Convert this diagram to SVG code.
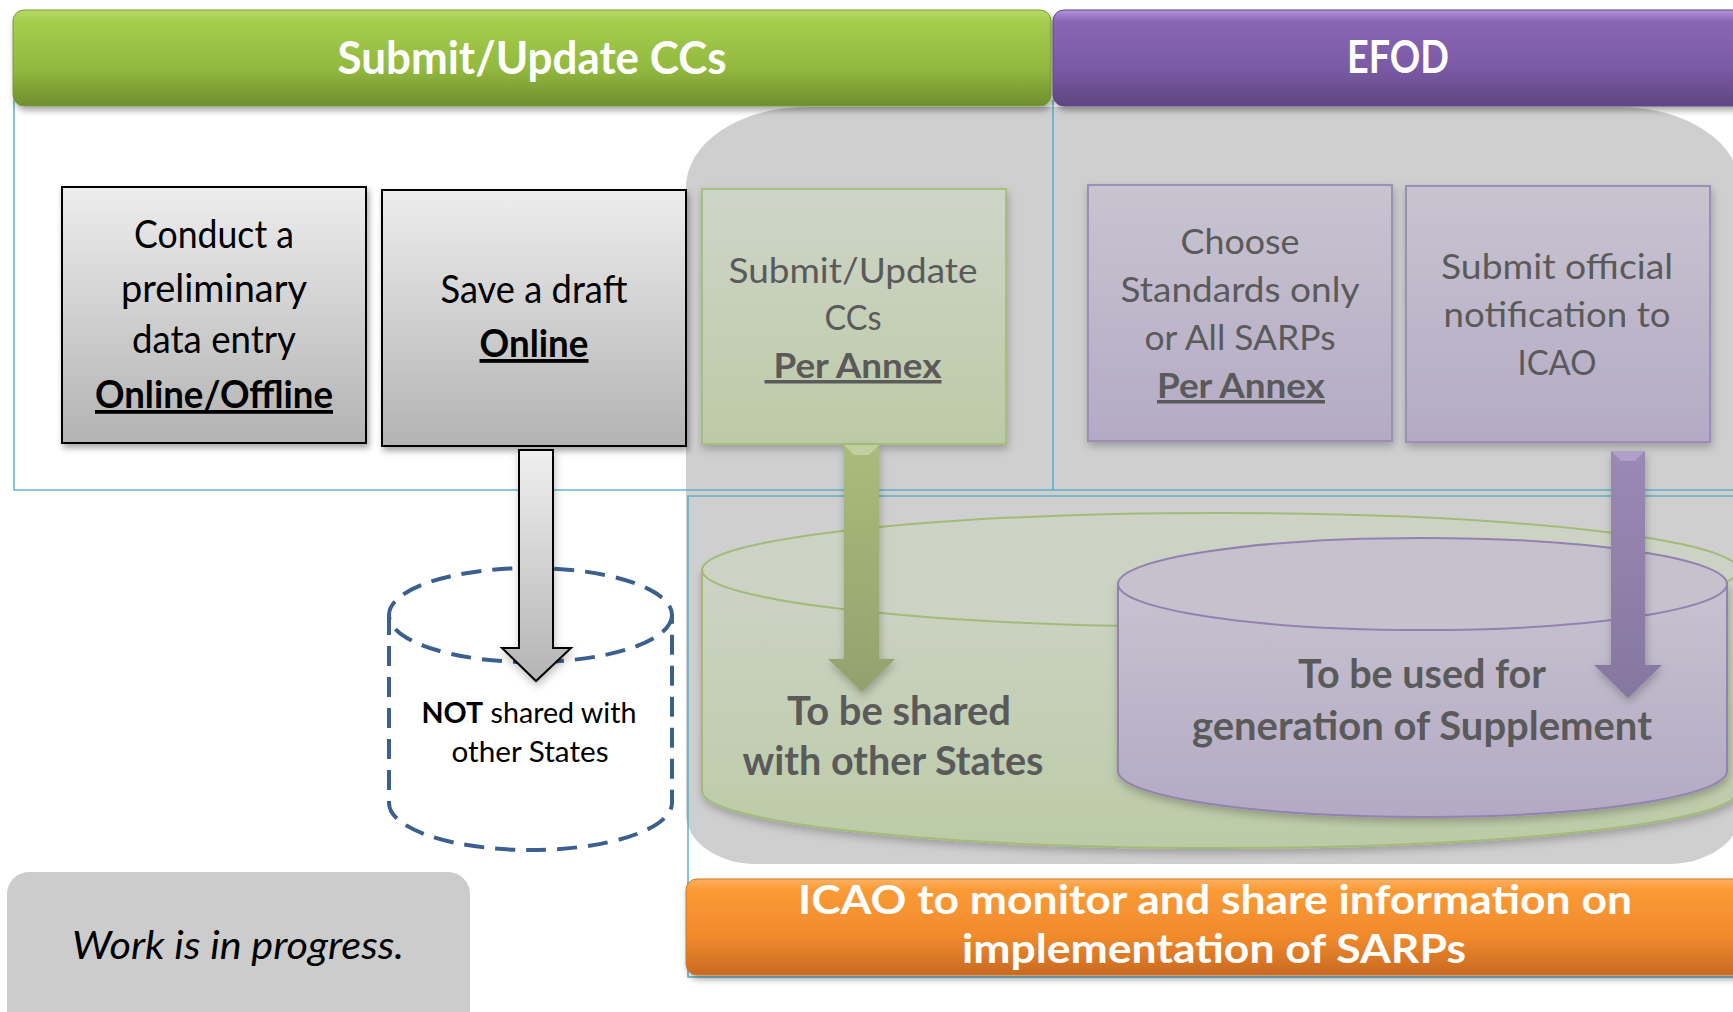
<svg xmlns="http://www.w3.org/2000/svg" width="1733" height="1012" viewBox="0 0 1733 1012">
  <defs>
    <linearGradient id="gHead" x1="0" y1="0" x2="0" y2="1">
      <stop offset="0" stop-color="#b6db68"/>
      <stop offset="0.12" stop-color="#a5cc4c"/>
      <stop offset="0.6" stop-color="#93ba3f"/>
      <stop offset="1" stop-color="#6f8e2e"/>
    </linearGradient>
    <linearGradient id="pHead" x1="0" y1="0" x2="0" y2="1">
      <stop offset="0" stop-color="#b194dc"/>
      <stop offset="0.12" stop-color="#8a66b2"/>
      <stop offset="0.6" stop-color="#7b5aa5"/>
      <stop offset="1" stop-color="#5f4682"/>
    </linearGradient>
    <linearGradient id="oBar" x1="0" y1="0" x2="0" y2="1">
      <stop offset="0" stop-color="#fcb060"/>
      <stop offset="0.12" stop-color="#fb9a36"/>
      <stop offset="0.6" stop-color="#f08a2c"/>
      <stop offset="1" stop-color="#c86a22"/>
    </linearGradient>
    <linearGradient id="grayBox" x1="0" y1="0" x2="0" y2="1">
      <stop offset="0" stop-color="#ededed"/>
      <stop offset="1" stop-color="#b3b3b3"/>
    </linearGradient>
    <linearGradient id="greenBox" x1="0" y1="0" x2="0" y2="1">
      <stop offset="0" stop-color="#ced5c9"/>
      <stop offset="1" stop-color="#bdcaa6"/>
    </linearGradient>
    <linearGradient id="purpleBox" x1="0" y1="0" x2="0" y2="1">
      <stop offset="0" stop-color="#c8c4cf"/>
      <stop offset="1" stop-color="#b4aac6"/>
    </linearGradient>
    <linearGradient id="greenCyl" x1="0" y1="0" x2="0" y2="1">
      <stop offset="0" stop-color="#cdd3c6"/>
      <stop offset="1" stop-color="#bccba6"/>
    </linearGradient>
    <linearGradient id="purpleCyl" x1="0" y1="0" x2="0" y2="1">
      <stop offset="0" stop-color="#c7c3cf"/>
      <stop offset="1" stop-color="#b3a9c5"/>
    </linearGradient>
    <linearGradient id="grayArrow" x1="0" y1="0" x2="0" y2="1">
      <stop offset="0" stop-color="#efefef"/>
      <stop offset="1" stop-color="#b4b4b4"/>
    </linearGradient>
    <linearGradient id="greenArrow" x1="0" y1="0" x2="0" y2="1">
      <stop offset="0" stop-color="#a9bb7c"/>
      <stop offset="1" stop-color="#92a26e"/>
    </linearGradient>
    <linearGradient id="purpleArrow" x1="0" y1="0" x2="0" y2="1">
      <stop offset="0" stop-color="#9a89b5"/>
      <stop offset="1" stop-color="#86779f"/>
    </linearGradient>
    <filter id="shadow" x="-10%" y="-10%" width="120%" height="130%">
      <feDropShadow dx="2" dy="4" stdDeviation="3" flood-color="#000" flood-opacity="0.35"/>
    </filter>
    <filter id="softShadow" x="-10%" y="-10%" width="120%" height="130%">
      <feDropShadow dx="1" dy="4" stdDeviation="4" flood-color="#000" flood-opacity="0.25"/>
    </filter>
  </defs>
  <style>
    text { font-family: Lato, "Liberation Sans", sans-serif; text-anchor: middle; }
    .head { font-size: 46px; font-weight: bold; fill: #ffffff; }
    .boxTxt { font-size: 38px; fill: #000000; }
    .softTxt { font-size: 35px; fill: #5a5a5a; }
    .cylTxt { font-size: 40px; font-weight: bold; fill: #5a5a5a; }
    .barTxt { font-size: 40px; font-weight: bold; fill: #ffffff; }
    .ul { text-decoration: underline; font-weight: bold; }
    .sect { fill: none; stroke: #4aa9c6; stroke-width: 1.6; opacity: 0.85; }
  </style>

  <rect width="1733" height="1012" fill="#ffffff"/>

  <!-- gray shared region -->
  <g id="shared-region">
    <path d="M686,187 A120,80 0 0 1 806,107 L1620,107 A120,80 0 0 1 1740,187 L1740,814 A72,50 0 0 1 1668,864 L756,864 A70,50 0 0 1 686,814 Z" fill="#cfcfcf"/>
  </g>

  <!-- section frames -->
  <g id="section-frames">
    <path class="sect" d="M14,100 L14,490 L1740,490"/>
    <path class="sect" d="M1053,100 L1053,490"/>
    <path class="sect" d="M1740,496 L688,496 L688,977 L1740,977"/>
  </g>

  <!-- headers -->
  <g id="header-submit">
    <rect x="13" y="10" width="1038" height="96" rx="11" fill="url(#gHead)" stroke="#7d9a3a" stroke-width="1" filter="url(#shadow)"/>
    <text class="head" x="532" y="74" textLength="389" lengthAdjust="spacingAndGlyphs">Submit/Update CCs</text>
  </g>
  <g id="header-efod">
    <rect x="1053" y="10" width="700" height="96" rx="11" fill="url(#pHead)" stroke="#5f4682" stroke-width="1" filter="url(#shadow)"/>
    <text class="head" x="1398" y="73" textLength="102" lengthAdjust="spacingAndGlyphs">EFOD</text>
  </g>

  <!-- step boxes -->
  <g id="box-preliminary">
    <rect x="62" y="187" width="304" height="256" fill="url(#grayBox)" stroke="#000" stroke-width="2" filter="url(#shadow)"/>
    <text class="boxTxt" x="214" y="248" textLength="160" lengthAdjust="spacingAndGlyphs">Conduct a</text>
    <text class="boxTxt" x="214" y="302" textLength="186" lengthAdjust="spacingAndGlyphs">preliminary</text>
    <text class="boxTxt" x="214" y="353" textLength="164" lengthAdjust="spacingAndGlyphs">data entry</text>
    <text class="boxTxt ul" x="214" y="408" textLength="238" lengthAdjust="spacingAndGlyphs">Online/Offline</text>
  </g>
  <g id="box-draft">
    <rect x="382" y="190" width="304" height="256" fill="url(#grayBox)" stroke="#000" stroke-width="2" filter="url(#shadow)"/>
    <text class="boxTxt" x="534" y="303" textLength="187" lengthAdjust="spacingAndGlyphs">Save a draft</text>
    <text class="boxTxt ul" x="534" y="357" textLength="109" lengthAdjust="spacingAndGlyphs">Online</text>
  </g>
  <g id="box-submit-ccs">
    <rect x="702" y="189" width="304" height="255" fill="url(#greenBox)" stroke="#a6bf7d" stroke-width="2" filter="url(#softShadow)"/>
    <text class="softTxt" x="853" y="283" textLength="249" lengthAdjust="spacingAndGlyphs">Submit/Update</text>
    <text class="softTxt" x="853" y="330" textLength="57" lengthAdjust="spacingAndGlyphs">CCs</text>
    <text class="softTxt ul" x="853" y="378" textLength="177" lengthAdjust="spacingAndGlyphs">&#160;Per Annex</text>
  </g>
  <g id="box-choose">
    <rect x="1088" y="185" width="304" height="256" fill="url(#purpleBox)" stroke="#9c8fb6" stroke-width="2" filter="url(#softShadow)"/>
    <text class="softTxt" x="1240" y="254" textLength="119" lengthAdjust="spacingAndGlyphs">Choose</text>
    <text class="softTxt" x="1240" y="302" textLength="239" lengthAdjust="spacingAndGlyphs">Standards only</text>
    <text class="softTxt" x="1240" y="350" textLength="191" lengthAdjust="spacingAndGlyphs">or All SARPs</text>
    <text class="softTxt ul" x="1241" y="398" textLength="168" lengthAdjust="spacingAndGlyphs">Per Annex</text>
  </g>
  <g id="box-notify">
    <rect x="1406" y="186" width="304" height="256" fill="url(#purpleBox)" stroke="#9c8fb6" stroke-width="2" filter="url(#softShadow)"/>
    <text class="softTxt" x="1557" y="279" textLength="232" lengthAdjust="spacingAndGlyphs">Submit official</text>
    <text class="softTxt" x="1557" y="327" textLength="227" lengthAdjust="spacingAndGlyphs">notification to</text>
    <text class="softTxt" x="1557" y="375" textLength="79" lengthAdjust="spacingAndGlyphs">ICAO</text>
  </g>

  <!-- stores -->
  <g id="store-not-shared">
    <path d="M389,615 L389,803 A141.5,47 0 0 0 672,803 L672,615" fill="none" stroke="#3b5f8e" stroke-width="4" stroke-dasharray="20 11"/>
    <ellipse cx="530.5" cy="615" rx="141.5" ry="47" fill="none" stroke="#3b5f8e" stroke-width="4" stroke-dasharray="20 11"/>
    <text x="529" y="723" font-size="28" fill="#000" textLength="215" lengthAdjust="spacingAndGlyphs"><tspan font-weight="bold">NOT</tspan> shared with</text>
    <text x="530" y="762" font-size="28" fill="#000" textLength="157" lengthAdjust="spacingAndGlyphs">other States</text>
  </g>
  <g id="store-shared">
    <path d="M702,570 L702,791 A518,57 0 0 0 1738,791 L1738,570 Z" fill="url(#greenCyl)" stroke="#a3bb78" stroke-width="2" filter="url(#softShadow)"/>
    <ellipse cx="1220" cy="570" rx="518" ry="57" fill="#ccd3c4" stroke="#a3bb78" stroke-width="2"/>
    <text class="cylTxt" x="899" y="725" textLength="224" lengthAdjust="spacingAndGlyphs">To be shared</text>
    <text class="cylTxt" x="893" y="775" textLength="301" lengthAdjust="spacingAndGlyphs">with other States</text>
  </g>
  <g id="store-supplement">
    <path d="M1118,584 L1118,771 A304.5,46 0 0 0 1727,771 L1727,584 Z" fill="url(#purpleCyl)" stroke="#9282b0" stroke-width="2" filter="url(#softShadow)"/>
    <ellipse cx="1422.5" cy="584" rx="304.5" ry="46" fill="#c6c2cd" stroke="#9282b0" stroke-width="2"/>
    <text class="cylTxt" x="1422" y="688" textLength="248" lengthAdjust="spacingAndGlyphs">To be used for</text>
    <text class="cylTxt" x="1422" y="740" textLength="460" lengthAdjust="spacingAndGlyphs">generation of Supplement</text>
  </g>

  <!-- connectors -->
  <g id="connectors">
    <path d="M519,450 L553,450 L553,648 L571,648 L536,681 L502,648 L519,648 Z" fill="url(#grayArrow)" stroke="#000" stroke-width="2" filter="url(#softShadow)"/>
    <path d="M844,445 L879,445 L879,659 L895,659 L862,692 L828,659 L844,659 Z" fill="url(#greenArrow)" filter="url(#softShadow)"/>
    <path d="M844,445 L879,445 L869,455 L854,455 Z" fill="#c7d4a6" opacity="0.8"/>
    <path d="M1611,451 L1645,451 L1645,665 L1662,665 L1628,698 L1594,665 L1611,665 Z" fill="url(#purpleArrow)" filter="url(#softShadow)"/>
    <path d="M1611,451 L1645,451 L1635,461 L1621,461 Z" fill="#b5a6cc" opacity="0.8"/>
  </g>

  <!-- monitor bar -->
  <g id="bar-monitor">
    <rect x="686" y="879" width="1060" height="96" rx="11" fill="url(#oBar)" stroke="#d07a2a" stroke-width="1" filter="url(#shadow)"/>
    <text class="barTxt" x="1215" y="914" textLength="834" lengthAdjust="spacingAndGlyphs">ICAO to monitor and share information on</text>
    <text class="barTxt" x="1214" y="963" textLength="504" lengthAdjust="spacingAndGlyphs">implementation of SARPs</text>
  </g>

  <!-- note -->
  <g id="note-progress">
    <rect x="7" y="872" width="463" height="170" rx="22" fill="#cccccc"/>
    <text x="238" y="959" font-size="38" font-style="italic" fill="#000" textLength="332" lengthAdjust="spacingAndGlyphs">Work is in progress.</text>
  </g>
</svg>
